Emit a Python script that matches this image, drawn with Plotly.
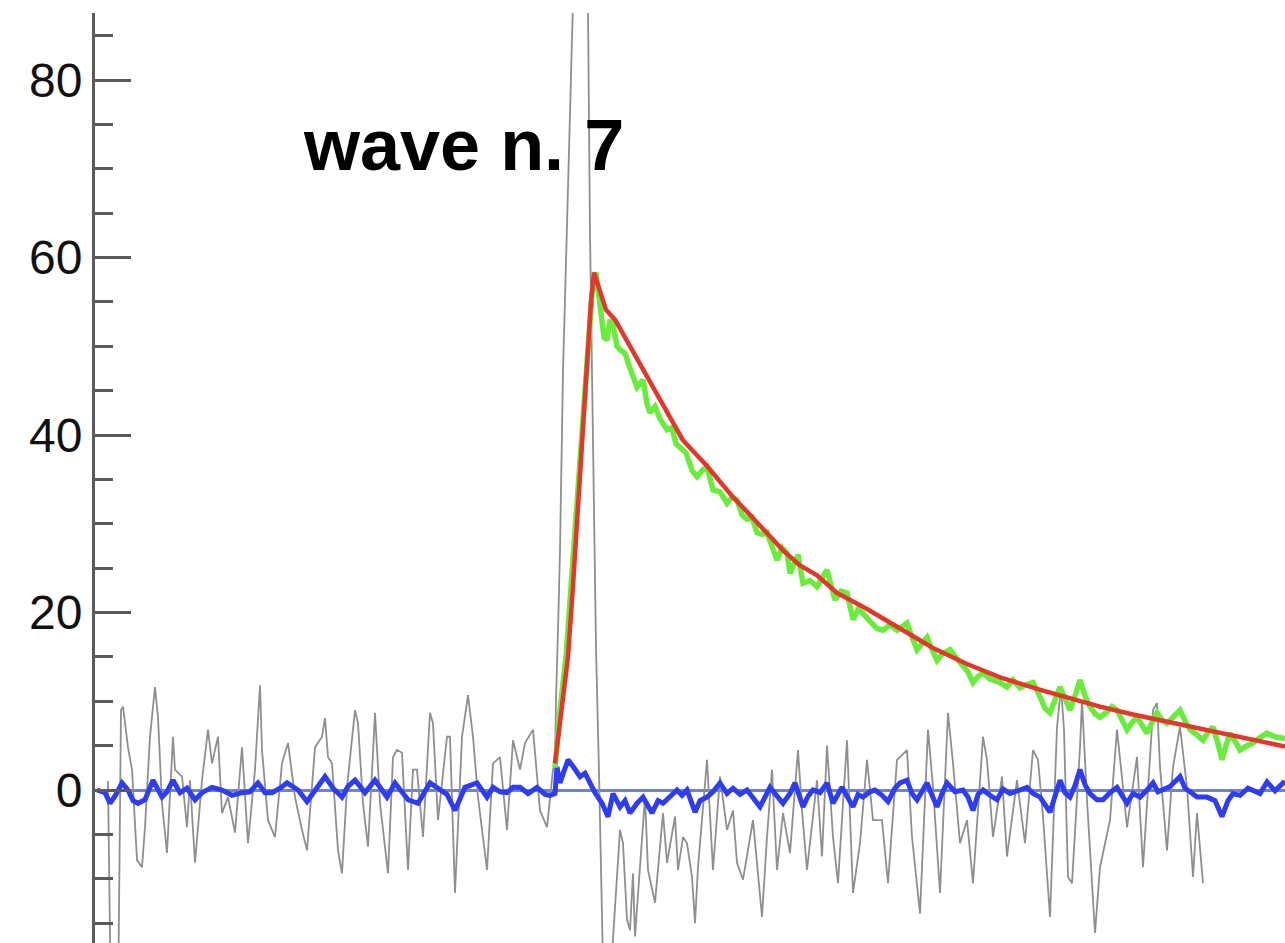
import plotly.graph_objects as go

# ---- recorded sweep (ms, mV-like units) ----
raw_t = [1.1, 1.4, 2.1, 2.4, 2.6, 3.1, 3.5, 4.0, 4.5, 4.8, 5.3, 5.8, 6.1, 6.5, 7.0, 7.6, 7.8, 8.5, 9.0, 9.3,
         9.8, 10.5, 11.1, 11.5, 12.1, 12.5, 13.1, 13.8, 14.5, 15.1, 15.8, 16.3, 16.5, 17.1, 17.8, 18.5, 19.1,
         19.8, 20.5, 21.0, 21.8, 22.5, 22.8, 23.1, 23.5, 24.1, 24.5, 25.0, 25.8, 26.1, 26.6, 27.1, 27.6, 27.8,
         28.3, 29.1, 29.6, 30.0, 30.5, 31.1, 31.6, 32.0, 32.6, 33.3, 33.6, 34.1, 35.0, 35.3, 35.8, 36.5, 37.1,
         37.6, 38.1, 39.0, 39.6, 40.3, 41.0, 41.6, 42.3, 42.8, 43.6, 44.3, 45.0, 45.6, 45.8, 45.9, 46.1, 46.3,
         46.6, 47.0, 47.5, 47.9, 48.3, 48.7, 49.1, 49.3, 49.5, 49.7, 49.9, 50.2, 50.4, 50.7, 51.3, 52.3, 52.6,
         53.0, 53.3, 53.6, 53.8, 54.5, 54.8, 55.1, 55.8, 56.3, 56.6, 57.0, 57.8, 58.1, 58.6, 59.0, 59.5, 59.8,
         60.1, 61.0, 61.6, 62.3, 63.0, 63.6, 64.0, 64.6, 65.6, 66.5, 67.0, 67.5, 68.0, 68.6, 69.3, 70.1, 70.5,
         71.0, 72.0, 72.5, 73.0, 73.6, 74.1, 75.0, 75.6, 76.3, 77.0, 77.6, 78.5, 79.1, 80.0, 81.0, 81.5, 82.3,
         83.1, 83.6, 84.3, 85.1, 85.6, 86.3, 87.0, 87.6, 88.6, 89.0, 89.6, 90.5, 91.0, 92.0, 92.8, 93.6, 94.1,
         94.6, 95.3, 96.0, 96.4, 96.7, 97.1, 97.5, 98.3, 98.5, 99.0, 99.8, 100.3, 101.3, 102.0, 102.6, 103.0,
         104.0, 104.6, 105.6, 106.0, 106.3, 107.0, 107.6, 108.3, 109.0, 109.6, 110.0, 110.6]
raw_v = [1.0, -25, -25, 9.0, 9.4, 4.8, 2.3, -7.9, -8.7, -4.2, 6.0, 11.6, 8.2, -1.5, -7.1, 6.0, 2.3, 1.5, -4.2, 1.1,
         -8.2, 1.1, 6.8, 3.0, 6.0, -2.6, -0.8, -4.8, 4.8, -6.0, 2.3, 11.8, 4.5, -3.4, -5.3, 3.0, 5.3,
         -0.8, -4.5, -6.8, 4.8, 6.0, 8.1, 3.7, 3.0, -6.8, -9.4, 0.3, 9.0, 7.5, -1.5, -6.4, 4.2, 8.7,
         -1.5, -9.4, 3.7, 4.5, 4.2, -9.0, 2.3, 2.3, -5.3, 8.7, 7.5, -3.4, 6.0, 6.0, -11.6, 6.0, 10.7,
         6.0, -0.8, -9.0, 3.0, 3.7, -4.5, 5.6, 2.3, 5.3, 6.8, -2.3, -4.2, 2.3, 3.0, 10.0, 18.0, 27.0,
         47.0, 66.0, 88.0, 110.0, 118.0, 110.0, 88.0, 62.8, 45.9, 27.0, 16.0, 2.0, -8.0, -25, -22, -4.5, -6.0,
         -14.6, -15.8, -9.4, -16.5, -5.3, -0.8, -9.0, -12.7, -6.4, -2.6, -8.2, -3.0, -9.0, -5.3, -6.0, -9.8, -15.0,
         -8.7, 3.4, -9.0, 1.5, -4.5, -2.3, -8.2, -10.1, -3.4, -14.3, -5.3, 2.3, -9.0, -2.6, -7.1, 4.5, -2.3,
         -9.0, 1.1, -7.5, 5.0, -5.3, -10.5, 5.6, -11.6, -6.0, 3.4, -3.4, -3.4, -10.5, 3.4, 4.5, -5.3, -13.9,
         6.8, 0.3, -11.6, 8.7, 3.0, -6.0, -3.4, -10.5, 6.0, 3.4, -5.3, 1.5, -7.5, 1.1, -6.0, 4.5, 3.4,
         -3.0, -14.3, 7.1, 11.6, 6.8, -9.8, -10.5, 4.8, 10.1, -1.1, -16.1, -8.7, -3.4, 6.8, 0.3, -4.2,
         3.7, -8.7, 9.0, 9.8, 2.6, -6.8, 2.6, 7.1, 0.3, -9.8, -2.6, -10.5]

# ---- averaged response used for fitting ----
data_t = [45.8, 46.3, 46.9, 47.5, 48.1, 48.6, 49.1, 49.5, 49.9, 50.3, 50.7, 51.0, 51.3, 51.6, 52.0, 52.3, 52.8,
          53.3, 54.0, 54.6, 55.0, 55.3, 55.8, 56.3, 57.0, 57.5, 57.9, 58.3, 58.9, 59.5, 60.0, 60.5, 61.0, 61.6,
          62.3, 63.0, 63.5, 64.0, 64.5, 65.0, 65.5, 66.0, 66.5, 67.0, 67.5, 68.0, 68.5, 69.0, 69.3, 69.8, 70.1,
          70.6, 71.3, 72.0, 72.5, 73.0, 73.8, 74.4, 75.0, 75.6, 76.1, 76.6, 77.3, 78.0, 78.6, 79.3, 80.0, 81.0,
          81.5, 82.0, 82.5, 83.0, 83.5, 84.0, 84.6, 85.3, 86.0, 86.6, 87.1, 87.6, 88.1, 88.6, 89.3, 90.3, 91.0,
          91.6, 92.3, 93.0, 93.6, 94.3, 94.8, 95.3, 95.8, 96.3, 96.8, 97.3, 97.8, 98.3, 98.8, 99.3, 99.8, 100.3,
          101.0, 101.5, 102.0, 102.5, 103.0, 103.5, 104.0, 104.5, 105.0, 105.5, 106.0, 106.5, 107.0, 107.6,
          108.3, 108.8, 109.3, 110.0, 110.6, 111.1, 111.6, 112.1, 112.5, 112.9, 113.3, 113.8, 114.3, 115.0,
          115.6, 116.3, 117.0, 117.8, 118.8]
data_v = [2.5, 9.0, 15.0, 24.0, 34.0, 42.0, 50.0, 56.0, 58.3, 55.0, 51.0, 50.7, 53.0, 52.4, 50.0, 49.6, 49.2,
          47.5, 45.4, 46.2, 43.5, 42.5, 43.2, 41.8, 40.6, 40.8, 39.0, 38.6, 38.0, 36.0, 35.3, 36.0, 36.4, 33.8,
          33.6, 32.3, 33.0, 32.7, 31.0, 30.5, 30.7, 29.0, 28.8, 29.0, 27.2, 25.9, 27.3, 26.7, 24.4, 26.0, 26.5,
          23.3, 23.6, 22.9, 24.0, 24.8, 21.4, 22.4, 22.2, 19.2, 20.3, 19.9, 19.0, 18.2, 18.0, 18.6, 18.0, 18.8,
          17.2, 15.8, 16.5, 17.2, 15.8, 14.6, 15.4, 15.8, 14.8, 13.9, 13.3, 12.1, 12.8, 13.2, 12.5, 12.1, 11.6,
          12.4, 11.5, 11.9, 12.1, 10.5, 9.2, 8.7, 10.0, 11.6, 10.3, 9.0, 10.6, 12.4, 10.6, 9.4, 8.6, 8.2,
          8.8, 9.4, 9.0, 8.0, 6.8, 7.6, 8.2, 7.3, 6.4, 7.6, 8.7, 7.9, 7.5, 8.2,
          9.0, 7.8, 6.8, 6.2, 5.6, 6.5, 7.1, 5.2, 3.4, 5.0, 6.4, 5.5, 4.5, 5.0,
          5.3, 5.9, 6.4, 6.0, 5.8]

# ---- fitted rise / decay ----
fit_t = [45.8, 46.5, 47.1, 47.6, 48.1, 48.5, 49.0, 49.4, 49.7, 50.3, 50.9, 51.8, 53.3, 55.3, 57.3, 58.6, 61.0,
         63.6, 65.3, 67.3, 68.6, 70.3, 72.0, 74.0, 77.0, 80.3, 83.6, 87.0, 90.3, 94.6, 97.0, 100.3, 103.6,
         107.0, 110.3, 114.3, 118.8]
fit_v = [3.0, 9.0, 15.0, 23.0, 32.0, 39.0, 48.0, 55.0, 58.3, 56.0, 54.1, 53.0, 50.0, 46.0, 42.0, 39.4, 36.5,
         33.0, 31.0, 28.6, 27.0, 25.3, 24.2, 22.2, 20.4, 18.2, 16.0, 14.2, 12.7, 11.2, 10.4, 9.4, 8.5,
         7.7, 7.0, 6.0, 4.9]

# ---- residual (data - fit) ----
res_t = [0.0, 0.8, 1.3, 1.9, 2.5, 3.1, 3.6, 4.1, 4.8, 5.6, 6.5, 7.0, 7.6, 8.3, 9.0, 9.8, 10.5, 11.5, 12.5, 13.5,
         14.5, 15.3, 16.1, 16.8, 17.5, 18.3, 19.0, 20.1, 21.0, 21.8, 22.8, 23.6, 24.5, 25.1, 25.8, 26.8, 27.8,
         29.0, 29.8, 31.1, 32.1, 33.3, 34.3, 35.0, 35.8, 36.8, 38.0, 39.0, 39.6, 40.3, 41.0, 41.6, 42.3, 43.1,
         44.0, 44.8, 45.3, 45.8, 46.0, 46.3, 46.6, 47.1, 47.7, 48.3, 48.8, 49.3, 49.8, 50.5, 51.1, 51.6, 52.3,
         52.8, 53.3, 54.0, 54.6, 55.5, 56.1, 56.6, 57.3, 58.0, 58.5, 59.0, 59.8, 60.3, 61.0, 61.6, 62.3, 63.0,
         63.6, 64.3, 65.0, 65.6, 66.3, 67.3, 68.0, 68.6, 69.3, 69.8, 70.6, 71.1, 71.6, 72.3, 73.0, 73.6, 74.5,
         75.0, 75.6, 76.1, 76.6, 77.3, 77.8, 78.5, 79.1, 79.8, 80.3, 81.0, 81.5, 82.0, 82.5, 83.0, 83.5, 84.0,
         84.5, 85.0, 85.8, 86.6, 87.1, 87.6, 88.1, 88.6, 89.3, 90.0, 90.6, 91.3, 92.3, 93.0, 93.6, 94.3, 95.3,
         95.8, 96.3, 96.8, 97.3, 97.8, 98.3, 98.8, 99.3, 100.0, 100.6, 101.3, 102.0, 102.5, 103.0, 103.6,
         104.3, 105.0, 105.6, 106.1, 106.6, 107.3, 108.3, 108.8, 109.3, 110.0, 111.0, 111.8, 112.5, 113.1,
         113.6, 114.3, 115.1, 115.6, 116.3, 117.0, 117.8, 118.6, 118.8]
res_v = [0.0, -0.3, -1.5, -0.5, 0.8, 0.0, -1.2, -1.5, -1.1, 1.1, -0.8, -0.2, 1.1, -0.3, 0.2, -1.1, -0.3, 0.3, 0.0,
         -0.6, -0.3, -0.2, 0.8, -0.3, -0.3, 0.2, 0.8, 0.0, -1.3, 0.0, 1.5, 0.2, -0.8, 0.4, 1.1, -0.3, 1.1,
         -0.8, 0.8, -1.1, -1.5, 0.8, 0.0, -0.5, -2.3, 0.3, 0.8, -0.8, 0.3, -0.2, -0.3, 0.3, 0.3, -0.4,
         0.3, -0.5, -0.6, -0.4, 2.6, 0.8, 1.8, 3.4, 2.5, 1.5, 1.9, 0.8, -0.3, -1.5, -3.0, -0.4, -1.9,
         -1.2, -2.6, -1.5, -0.8, -2.6, -1.2, -1.5, -0.8, 0.0, -0.6, 0.0, -2.5, -1.2, -0.8, -0.2, 0.8, -0.4,
         0.2, -0.5, 0.0, -0.8, -1.9, 0.3, -0.6, -1.5, -0.4, 0.8, -1.9, -0.7, 0.0, -0.3, 0.8, -1.5, 0.3,
         -0.6, -1.9, -0.5, -0.8, -0.2, 0.0, -0.6, -1.3, 0.2, 0.8, 1.1, -0.4, -1.1, 0.0, 0.8, -0.6, -1.9,
         -0.4, 0.8, -0.2, 0.0, -0.8, -2.3, -0.5, 0.0, -0.6, -1.1, 0.1, -0.4, 0.0, 0.3, -0.4, -0.8, -2.5,
         -0.5, 1.1, -0.3, -0.8, 0.5, 2.3, 0.6, -0.4, -1.1, -1.1, -0.3, 0.3, -0.6, -1.5, -0.4,
         -0.8, 0.0, 0.8, -0.2, 0.0, 0.4, 1.5, 0.2, -0.2, -0.8, -0.8, -1.2, -3.0, -1.2,
         -0.4, -0.6, 0.2, 0.0, -0.4, 0.9, -0.1, 0.8, 0.6]

y_ticks = [0, 20, 40, 60, 80]
y_tick_text = ["0", "20", "40", "60", "80"]
title_text = "wave n. 7"

fig = go.Figure()
fig.add_trace(go.Scatter(x=raw_t, y=raw_v, mode="lines",
                         line=dict(color="#8f8f8f", width=1.8), hoverinfo="skip"))
fig.add_trace(go.Scatter(x=res_t, y=res_v, mode="lines",
                         line=dict(color="#2e3df2", width=5)))
fig.add_trace(go.Scatter(x=data_t, y=data_v, mode="lines",
                         line=dict(color="#6aec3c", width=5.5)))
fig.add_trace(go.Scatter(x=fit_t, y=fit_v, mode="lines",
                         line=dict(color="#e4372c", width=4.5)))

fig.add_annotation(text="<b>" + title_text + "</b>", xref="paper", yref="paper",
                   x=0.1734, y=0.858, xanchor="left", yanchor="middle", showarrow=False,
                   font=dict(family="Liberation Sans, Arial, sans-serif", size=72, color="#000000"))

fig.update_layout(
    width=1285, height=943,
    margin=dict(l=95, r=0, t=13, b=0),
    paper_bgcolor="white", plot_bgcolor="white",
    showlegend=False,
    xaxis=dict(range=[-0.2, 118.8], visible=False),
    yaxis=dict(range=[-17.24, 87.55], tickvals=y_ticks, ticktext=y_tick_text,
               showgrid=False, zeroline=True, zerolinecolor="#6d85c8", zerolinewidth=2.5,
               showline=True, linecolor="#5a5a5a", linewidth=3,
               ticks="inside", ticklen=36, tickwidth=2.5, tickcolor="#5a5a5a",
               minor=dict(dtick=5, ticks="inside", ticklen=18, tickwidth=2.5, tickcolor="#5a5a5a"),
               ticklabelstandoff=0,
               tickfont=dict(family="Liberation Sans, Arial, sans-serif", size=48, color="#111111")),
)

fig.write_html("out.html")
